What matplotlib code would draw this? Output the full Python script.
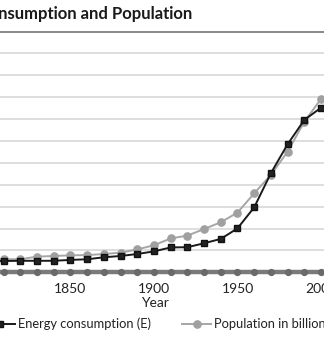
import matplotlib
matplotlib.use("Agg")
import matplotlib.pyplot as plt

plt.rcParams['font.family'] = ['Lato', 'DejaVu Sans']

# Decade series (gridline units)
years = [1800, 1810, 1820, 1830, 1840, 1850, 1860, 1870, 1880, 1890, 1900,
         1910, 1920, 1930, 1940, 1950, 1960, 1970, 1980, 1990, 2000]
energy = [0.50, 0.52, 0.53, 0.53, 0.53, 0.57, 0.60, 0.69, 0.75, 0.84, 0.96,
          1.14, 1.15, 1.33, 1.53, 2.01, 2.97, 4.53, 5.85, 6.96, 7.52]
population = [0.59, 0.60, 0.60, 0.72, 0.75, 0.78, 0.79, 0.84, 0.90, 1.05, 1.24,
              1.55, 1.68, 1.98, 2.29, 2.73, 3.61, 4.45, 5.51, 6.88, 7.92]
baseline = [0.0] * len(years)

tick_years = [1850, 1900, 1950, 2000]
tick_labels = ["1850", "1900", "1950", "2000"]

W, H = 324, 342
fig = plt.figure(figsize=(W / 100, H / 100), dpi=100)
fig.patch.set_facecolor("white")

y_bot, y_top = 272.4, 31.5
ax = fig.add_axes([0, (H - y_bot) / H, 1, (y_bot - y_top) / H])
ax.set_xlim(1807.8, 2001.8)
ax.set_ylim(0, 11)

ax.set_yticks(range(1, 11))
ax.yaxis.grid(True, color="#d4d4d4", linewidth=1.1)
ax.set_axisbelow(True)
ax.tick_params(axis="y", left=False, labelleft=False)
for side in ("left", "right", "bottom"):
    ax.spines[side].set_visible(False)
ax.spines["top"].set_color("#808080")
ax.spines["top"].set_linewidth(1.3)

ax.plot(years, baseline, color="#7a7a7a", linewidth=3.2, marker="o",
        markersize=4.2, markerfacecolor="#6a6a6a", markeredgecolor="#6a6a6a",
        clip_on=False, zorder=3)
ax.plot(years, population, color="#a6a6a6", linewidth=1.4, marker="o",
        markersize=5.2, markerfacecolor="#a0a0a0", markeredgecolor="#a0a0a0",
        label="Population in billions", zorder=4)
ax.plot(years, energy, color="#1a1a1a", linewidth=1.4, marker="s",
        markersize=4.4, markerfacecolor="#222222", markeredgecolor="#111111",
        label="Energy consumption (E)", zorder=5)

ax.set_xticks(tick_years)
ax.set_xticklabels(tick_labels, fontsize=10, color="#222222")
ax.tick_params(axis="x", length=0, pad=7.5)

fig.text(155 / W, 1 - 303 / H, "Year", ha="center", va="center",
         fontsize=10, color="#222222")

fig.text(192 / W, 1 - 19 / H, "Energy Consumption and Population",
         ha="right", va="baseline", fontsize=12, fontweight="bold",
         color="#1a1a1a")

handles, labels = ax.get_legend_handles_labels()
fig.legend(handles[::-1], labels[::-1], loc="center left",
           bbox_to_anchor=(-15 / W, 1 - 324 / H), ncol=2, frameon=False,
           fontsize=9.3, handlelength=2.3, handletextpad=0.23,
           columnspacing=2.4, borderpad=0, borderaxespad=0,
           labelcolor="#222222")

fig.savefig("out.png", dpi=100, facecolor="white")
